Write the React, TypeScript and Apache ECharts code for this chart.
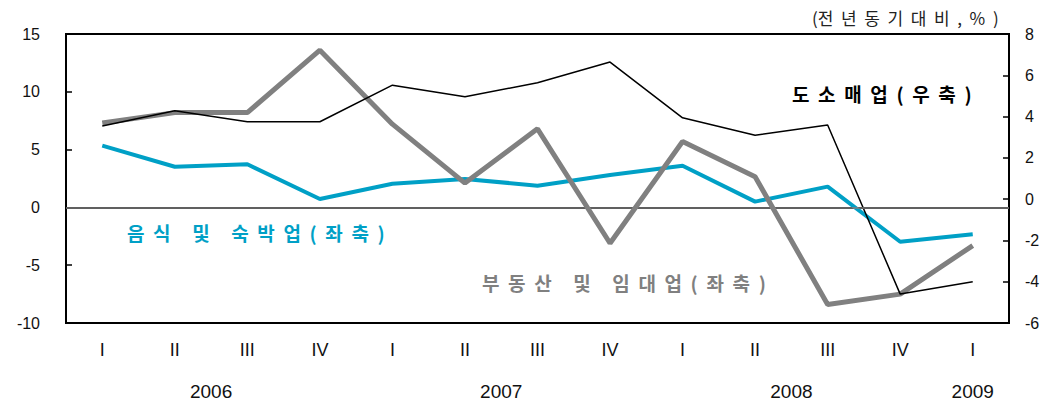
import React, { useEffect, useRef } from "react";
import * as echarts from "echarts";

const quarters = ["I", "II", "III", "IV", "I", "II", "III", "IV", "I", "II", "III", "IV", "I"];
// year labels sit on a half-step axis (27 points from the left edge to the right edge)
const yearSlots = ["", "", "", "", "2006", "", "", "", "", "", "", "", "2007", "", "", "", "", "", "", "", "2008", "", "", "", "", "2009", ""];

const foodLodging = [5.34, 3.52, 3.73, 0.73, 2.05, 2.46, 1.88, 2.8, 3.6, 0.5, 1.8, -2.97, -2.33];
const realEstate = [7.3, 8.2, 8.2, 13.6, 7.2, 2.1, 6.8, -3.1, 5.7, 2.65, -8.4, -7.5, -3.3];
const wholesaleRetail = [3.54, 4.28, 3.75, 3.75, 5.52, 4.96, 5.64, 6.64, 3.94, 3.1, 3.59, -4.6, -4.0];

const leftTicks = { min: -10, max: 15, interval: 5 };
const rightTicks = { min: -6, max: 8, interval: 2 };

const unitText = "(전  년  동  기  대  비  ,  %  )";
const retailLabel = "도  소  매  업  (  우  축  )";
const foodLabel = "음  식     및     숙  박  업  (  좌  축  )";
const realLabel = "부  동  산     및     임  대  업  (  좌  축  )";

const BLUE = "#00A0C6";
const GRAY = "#808080";
const KFONT = "'Noto Sans CJK KR', 'Noto Sans', sans-serif";
const LFONT = "'Liberation Sans', Arial, sans-serif";

export default function App() {
  const ref = useRef<HTMLDivElement>(null);
  useEffect(() => {
    if (!ref.current) return;
    const chart = echarts.init(ref.current, null, { renderer: "svg" });
    chart.setOption({
      animation: false,
      backgroundColor: "#fff",
      grid: {
        left: 66,
        right: 43,
        top: 34,
        bottom: 81,
        show: true,
        borderColor: "#000",
        borderWidth: 2,
      },
      xAxis: [
        {
          type: "category",
          data: quarters,
          boundaryGap: true,
          axisLine: { show: true, lineStyle: { color: "#000", width: 2 } },
          axisTick: { show: false },
          axisLabel: { interval: 0, color: "#111", fontSize: 18, fontFamily: LFONT, margin: 18 },
          splitLine: { show: false },
        },
        {
          type: "category",
          data: yearSlots,
          boundaryGap: false,
          position: "bottom",
          offset: 40,
          axisLine: { show: false },
          axisTick: { show: false },
          axisLabel: { interval: 0, color: "#111", fontSize: 19, fontFamily: LFONT, margin: 19 },
          splitLine: { show: false },
        },
      ],
      yAxis: [
        {
          type: "value",
          position: "left",
          min: leftTicks.min,
          max: leftTicks.max,
          interval: leftTicks.interval,
          axisLine: { show: true, lineStyle: { color: "#000", width: 2 } },
          axisTick: { show: true, inside: true, length: 6, lineStyle: { color: "#000", width: 1.5 } },
          axisLabel: { color: "#111", fontSize: 16, fontFamily: LFONT, margin: 26 },
          splitLine: { show: false },
        },
        {
          type: "value",
          position: "right",
          min: rightTicks.min,
          max: rightTicks.max,
          interval: rightTicks.interval,
          axisLine: { show: true, lineStyle: { color: "#000", width: 2 } },
          axisTick: { show: true, inside: true, length: 6, lineStyle: { color: "#000", width: 1.5 } },
          axisLabel: { color: "#111", fontSize: 16, fontFamily: LFONT, margin: 16 },
          splitLine: { show: false },
        },
      ],
      series: [
        {
          name: "음식 및 숙박업(좌축)",
          type: "line",
          xAxisIndex: 0,
          yAxisIndex: 0,
          data: foodLodging,
          symbol: "none",
          lineStyle: { color: BLUE, width: 4 },
          itemStyle: { color: BLUE },
          z: 2,
          markLine: {
            silent: true,
            symbol: "none",
            label: { show: false },
            lineStyle: { color: GRAY, width: 1.5, type: "solid" },
            data: [{ yAxis: 0 }],
          },
        },
        {
          name: "부동산 및 임대업(좌축)",
          type: "line",
          xAxisIndex: 0,
          yAxisIndex: 0,
          data: realEstate,
          symbol: "none",
          lineStyle: { color: GRAY, width: 5 },
          itemStyle: { color: GRAY },
          z: 3,
        },
        {
          name: "도소매업(우축)",
          type: "line",
          xAxisIndex: 0,
          yAxisIndex: 1,
          data: wholesaleRetail,
          symbol: "none",
          lineStyle: { color: "#000", width: 1.5 },
          itemStyle: { color: "#000" },
          z: 4,
        },
      ],
      graphic: [
        {
          type: "text",
          x: 812,
          y: 17,
          style: { text: unitText, fill: "#222", font: `17px ${KFONT}`, verticalAlign: "middle", align: "left" },
        },
        {
          type: "text",
          x: 792,
          y: 93,
          style: { text: retailLabel, fill: "#000", font: `bold 19px ${KFONT}`, verticalAlign: "middle", align: "left" },
        },
        {
          type: "text",
          x: 127,
          y: 232,
          style: { text: foodLabel, fill: BLUE, font: `bold 19px ${KFONT}`, verticalAlign: "middle", align: "left" },
        },
        {
          type: "text",
          x: 482,
          y: 282,
          style: { text: realLabel, fill: GRAY, font: `bold 19px ${KFONT}`, verticalAlign: "middle", align: "left" },
        },
      ],
    });
    return () => chart.dispose();
  }, []);
  return (
    <div
      ref={ref}
      style={{ position: "absolute", left: 0, top: 0, width: 1052, height: 404 }}
    />
  );
}
